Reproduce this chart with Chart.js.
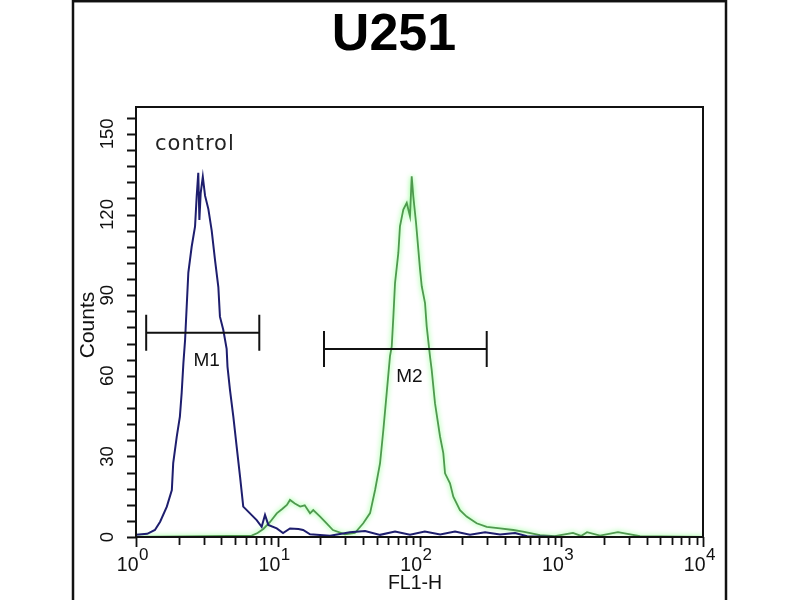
<!DOCTYPE html>
<html>
<head>
<meta charset="utf-8">
<script src="https://cdn.jsdelivr.net/npm/chart.js@4.4.1/dist/chart.umd.min.js"></script>
<style>
html,body{margin:0;padding:0;background:#fff;}
#wrap{width:800px;height:600px;position:relative;}
</style>
</head>
<body>
<div id="wrap"><canvas id="c" width="800" height="600"></canvas></div>
<script>
// ---- data ----
const chartTitle = 'U251';
const xAxisTitle = 'FL1-H';
const yAxisTitle = 'Counts';
const sampleLabel = 'control';

const fl1Control = [1.0,1.2,1.36,1.48,1.65,1.79,1.83,1.94,2.04,2.10,2.16,2.22,2.34,2.47,2.61,2.68,2.75,2.80,2.86,2.96,3.07,3.24,3.42,3.61,3.81,3.91,4.13,4.36,4.42,4.60,4.86,5.13,5.42,5.71,6.37,7.10,7.70,8.13,8.58,9.84,10.9,12.2,14.0,15.1,16.9,23.4,32.3,41.3,52.7,67.2,85.7,109,140,178,227,290,370,472,574,980,10000];
const countsControl = [0.8,1.2,2.6,5.7,11.3,17.5,27.5,37.4,44.8,53.6,64.8,73.4,98.4,108,115.6,126.8,135.5,118,128,134,127,122,114,103,93,82,77,70,63.4,54.8,44.8,33.6,22.5,11.3,8.8,6.3,3.8,8.2,4.5,3.2,1.5,3.2,3.0,2.6,1.0,0.5,1.8,2.2,0.8,2.0,0.8,2.0,0.9,2.0,0.8,1.8,0.9,1.5,0.3,0,0];

const fl1Sample = [1.0,6.55,7.2,7.91,8.8,9.84,10.8,11.6,12.2,13.2,14.4,15.5,16.9,17.8,19.9,22.2,24.5,29.8,35,40.1,44.8,48.6,52.7,55.6,58.7,61.9,63.7,65.4,67.2,70.9,72.8,76.9,81.3,85.7,88.1,90.4,94.5,98.1,100.9,103.7,109.4,112.4,118.6,121.9,128.6,139.6,147.2,151.4,164.1,173.2,193,215,253,298,370,459,537,708,900,1210,1380,1520,1876,2512,3594,10000];
const countsSample = [0,0.5,1.5,3,5.5,8.8,10.5,11.9,13.8,12.5,11.3,11.8,8.8,10,7.6,5,2.6,1,1.5,5.1,8.9,17.5,27.5,39.9,53.6,67.2,70.9,82,94.5,105.7,115.6,121.8,124.3,119.3,134.2,126.8,117,107,99.5,93.3,87,78.4,67.2,62.2,49.8,37.4,31.2,23.7,20,15,10,7.6,5.1,3.8,3.2,2.6,2,0.7,0.3,1.5,0.4,1.8,0.5,1.8,0.3,0];

const markerNames = ['M1','M2'];
const markerFrom = [1.18, 21.2];
const markerTo = [7.41, 298];
const markerCount = [76, 70];

const yTickLabels = [0,30,60,90,120,150];
const yMinorStep = 6;
const xExponents = [0,1,2,3,4];

// ---- build ----
const toPts = (xs, ys) => xs.map((v, i) => ({x: v, y: ys[i]}));

const decor = {
  id: 'decor',
  beforeDatasetDraw(chart, args) {
    const ctx = chart.ctx;
    ctx.save();
    if (args.index === 1) {
      ctx.shadowColor = 'rgba(100,255,100,0.9)';
      ctx.shadowBlur = 5;
    }
  },
  afterDatasetDraw(chart) { chart.ctx.restore(); },
  afterDraw(chart) {
    const ctx = chart.ctx, xs = chart.scales.x, ys = chart.scales.y, ca = chart.chartArea;
    ctx.save();
    ctx.strokeStyle = '#111';
    ctx.fillStyle = '#111';
    // outer frame
    ctx.lineWidth = 2.5;
    ctx.strokeRect(73, 1.2, 653, 640);
    // plot frame
    ctx.lineWidth = 2;
    ctx.strokeRect(ca.left, ca.top, ca.right - ca.left, ca.bottom - ca.top);
    // y ticks
    ctx.lineWidth = 1.8;
    ctx.beginPath();
    for (let v = 0; v <= ys.max; v += yMinorStep) {
      const py = Math.round(ys.getPixelForValue(v)) + 0.5;
      ctx.moveTo(ca.left - 9, py); ctx.lineTo(ca.left, py);
    }
    // x ticks
    for (let d = xExponents[0]; d < xExponents[xExponents.length - 1]; d++) {
      for (let k = 1; k <= 9; k++) {
        const px = Math.round(xs.getPixelForValue(k * Math.pow(10, d))) + 0.5;
        ctx.moveTo(px, ca.bottom); ctx.lineTo(px, ca.bottom + (k === 1 ? 10 : 8));
      }
    }
    const pl = Math.round(xs.getPixelForValue(Math.pow(10, xExponents[xExponents.length - 1]))) + 0.5;
    ctx.moveTo(pl, ca.bottom); ctx.lineTo(pl, ca.bottom + 10);
    ctx.stroke();

    // y tick labels (rotated)
    ctx.font = '18.5px "Liberation Sans", Arial, sans-serif';
    ctx.textAlign = 'center';
    ctx.textBaseline = 'alphabetic';
    yTickLabels.forEach(v => {
      const py = ys.getPixelForValue(v);
      ctx.save();
      ctx.translate(113, py);
      ctx.rotate(-Math.PI / 2);
      ctx.fillText(String(v), 0, 0);
      ctx.restore();
    });
    // x tick labels 10^n
    xExponents.forEach(e => {
      const px = xs.getPixelForValue(Math.pow(10, e));
      ctx.font = '19.5px "Liberation Sans", Arial, sans-serif';
      ctx.textAlign = 'right';
      ctx.fillText('10', px + 2.5, 571);
      ctx.font = '17px "Liberation Sans", Arial, sans-serif';
      ctx.textAlign = 'left';
      ctx.fillText(String(e), px + 3, 560);
    });
    // axis titles
    ctx.font = '19.5px "Liberation Sans", Arial, sans-serif';
    ctx.textAlign = 'center';
    ctx.fillText(xAxisTitle, 415, 589);
    ctx.save();
    ctx.translate(94, 325);
    ctx.rotate(-Math.PI / 2);
    ctx.font = '21px "Liberation Sans", Arial, sans-serif';
    ctx.fillText(yAxisTitle, 0, 0);
    ctx.restore();
    // title
    ctx.font = 'bold 52px "Liberation Sans", Arial, sans-serif';
    ctx.fillStyle = '#000';
    ctx.fillText(chartTitle, 394, 50);
    // sample label
    ctx.font = '21px "DejaVu Sans", sans-serif';
    ctx.fillStyle = '#222';
    ctx.textAlign = 'left';
    try { ctx.letterSpacing = '1px'; } catch (e) {}
    ctx.fillText(sampleLabel, 155, 150);
    try { ctx.letterSpacing = '0px'; } catch (e) {}
    // markers
    ctx.strokeStyle = '#111';
    ctx.fillStyle = '#111';
    ctx.lineWidth = 2;
    markerNames.forEach((name, i) => {
      const x1 = xs.getPixelForValue(markerFrom[i]);
      const x2 = xs.getPixelForValue(markerTo[i]);
      const py = ys.getPixelForValue(markerCount[i]);
      ctx.beginPath();
      ctx.moveTo(x1, py); ctx.lineTo(x2, py);
      ctx.moveTo(x1, py - 18); ctx.lineTo(x1, py + 18);
      ctx.moveTo(x2, py - 18); ctx.lineTo(x2, py + 18);
      ctx.stroke();
      ctx.font = '19px "Liberation Sans", Arial, sans-serif';
      ctx.textAlign = 'center';
      ctx.textBaseline = 'middle';
      ctx.fillText(name, (x1 + x2) / 2 + 4, py + 28);
      ctx.textBaseline = 'alphabetic';
    });
    ctx.restore();
  }
};

new Chart(document.getElementById('c'), {
  type: 'scatter',
  data: {
    datasets: [
      { label: 'control', data: toPts(fl1Control, countsControl), showLine: true,
        borderColor: '#1e1e6e', borderWidth: 2, pointRadius: 0, tension: 0, fill: false },
      { label: 'U251', data: toPts(fl1Sample, countsSample), showLine: true,
        borderColor: '#4f9a4f', borderWidth: 1.8, pointRadius: 0, tension: 0, fill: false }
    ]
  },
  options: {
    responsive: false,
    animation: false,
    devicePixelRatio: 1,
    layout: { padding: { left: 136, right: 97, top: 107, bottom: 63 } },
    plugins: { legend: { display: false }, tooltip: { enabled: false }, title: { display: false } },
    scales: {
      x: { type: 'logarithmic', min: 1, max: 10000, display: false },
      y: { type: 'linear', min: 0, max: 160, display: false }
    }
  },
  plugins: [decor]
});
</script>
</body>
</html>
